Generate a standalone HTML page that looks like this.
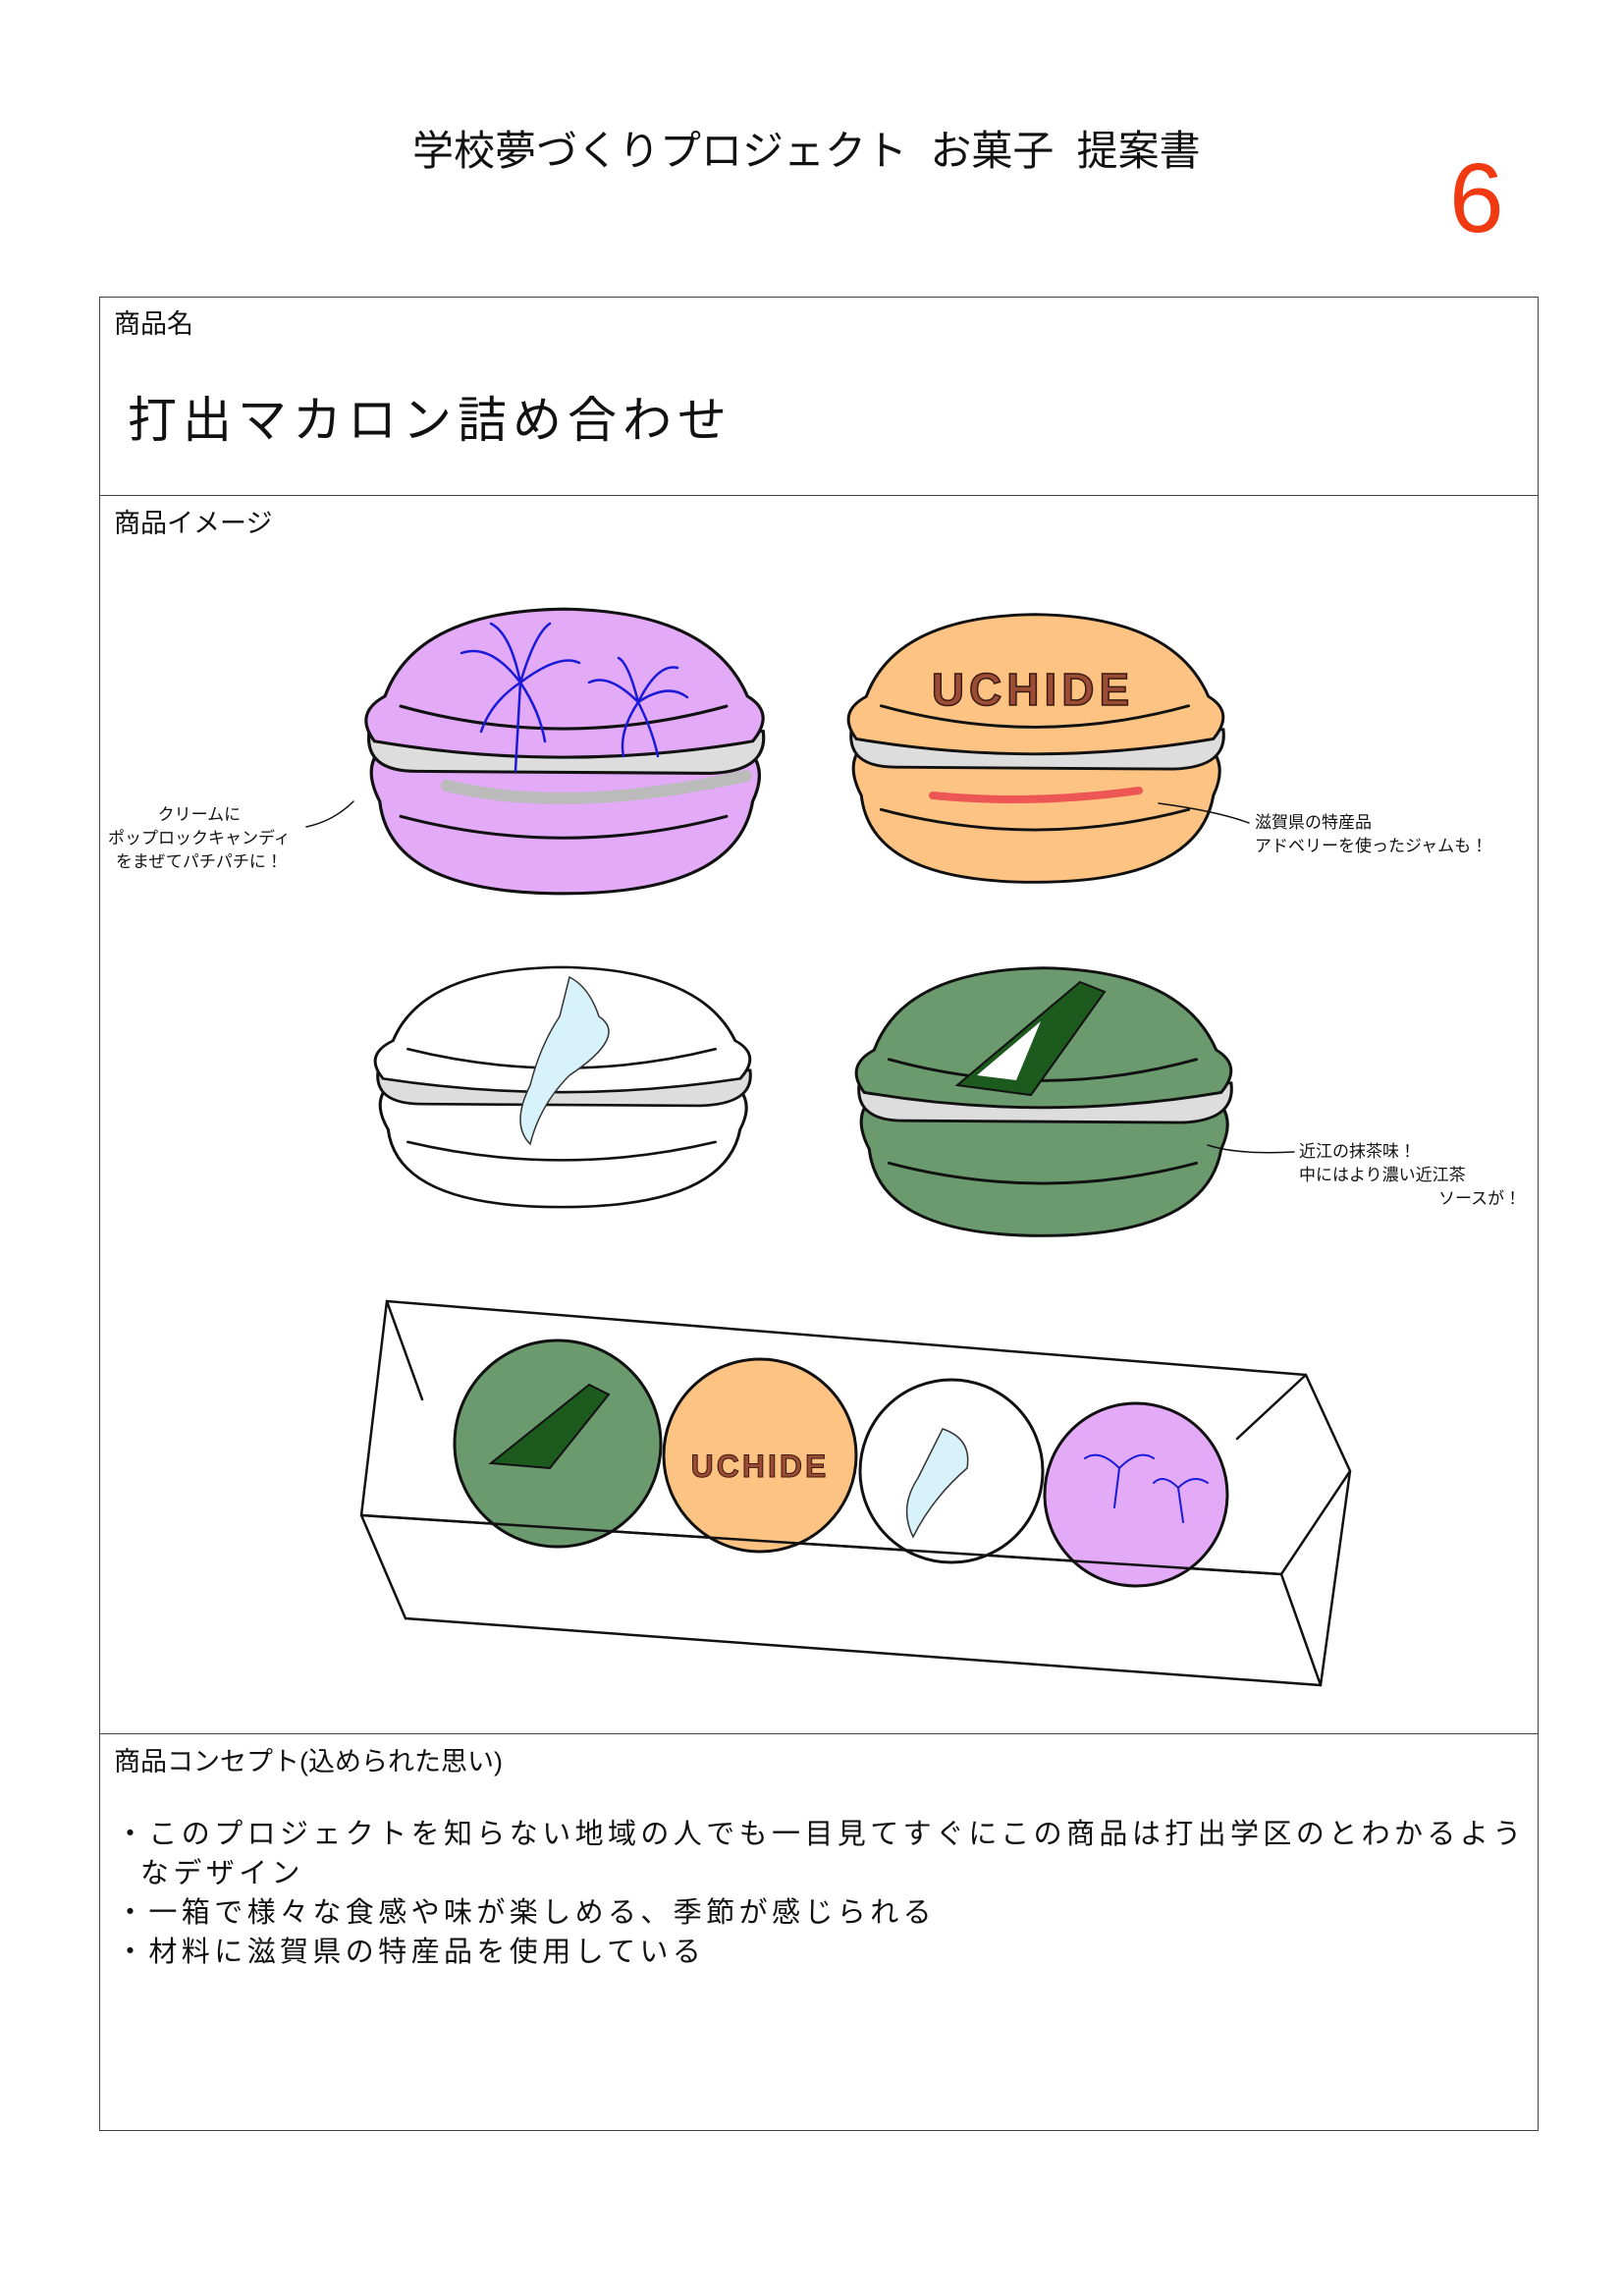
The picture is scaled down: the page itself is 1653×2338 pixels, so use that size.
<!DOCTYPE html>
<html><head><meta charset="utf-8"><style>
body{margin:0;background:#fff;}
.pg{position:relative;width:1653px;height:2338px;font-family:"Liberation Sans","Noto Sans CJK JP",sans-serif;color:#111;}
.t{position:absolute;white-space:nowrap;}
</style></head><body><div class="pg">
<div class="t" style="left:420px;top:120px;font-size:42px;">学校夢づくりプロジェクト&nbsp;&nbsp;お菓子&nbsp;&nbsp;提案書</div>
<div class="t" style="left:1476px;top:145px;font-size:100px;color:#f03a12;">6</div>
<div style="position:absolute;left:101px;top:302px;width:1464px;height:1866px;border:1.5px solid #444;"></div>
<div style="position:absolute;left:101px;top:504px;width:1466px;border-top:1.5px solid #444;"></div>
<div style="position:absolute;left:101px;top:1765px;width:1466px;border-top:1.5px solid #444;"></div>
<div class="t" style="left:116px;top:308px;font-size:27px;">商品名</div>
<div class="t" style="left:130px;top:388px;font-size:50px;letter-spacing:6px;">打出マカロン詰め合わせ</div>
<div class="t" style="left:116px;top:511px;font-size:27px;">商品イメージ</div>
<div class="t" style="left:116px;top:1772px;font-size:27px;">商品コンセプト(込められた思い)</div>
<div class="t" style="left:118px;top:1848px;font-size:29px;letter-spacing:4.4px;line-height:40px;">・このプロジェクトを知らない地域の人でも一目見てすぐにこの商品は打出学区のとわかるよう<br>&nbsp;&nbsp;なデザイン<br>・一箱で様々な食感や味が楽しめる、季節が感じられる<br>・材料に滋賀県の特産品を使用している</div>
<div class="t" style="left:110px;top:818px;font-size:17px;line-height:24px;text-align:center;">クリームに<br>ポップロックキャンディ<br>をまぜてパチパチに！</div>
<div class="t" style="left:1278px;top:826px;font-size:17px;line-height:24px;">滋賀県の特産品<br>アドベリーを使ったジャムも！</div>
<div class="t" style="left:1323px;top:1161px;font-size:17px;line-height:24px;">近江の抹茶味！<br>中にはより濃い近江茶<br><span style="padding-left:142px">ソースが！</span></div>
<svg width="1653" height="2338" style="position:absolute;left:0;top:0" fill="none" stroke="#111" stroke-width="3" stroke-linecap="round">
<defs>
<g id="mac">
<path d="M25,200 Q5,160 35,140 L365,140 Q398,160 380,200 Q365,292 200,292 Q35,292 25,200 Z"/>
<path d="M15,130 Q10,170 60,170 L340,172 Q395,170 390,130 Z" fill="#ddd" stroke="#111"/>
<path d="M20,140 Q0,112 30,95 Q60,10 200,8 Q340,10 375,95 Q402,112 380,140 Q200,172 20,140 Z"/>
<path d="M45,105 Q200,150 355,105" />
<path d="M45,215 Q200,258 355,215" />
</g>
</defs>
<g transform="translate(360,612) scale(1.07,1.02)" fill="#e2aaf7"><use href="#mac"/></g>
<g transform="translate(852,618) scale(1.01,0.96)" fill="#fcc383"><use href="#mac"/></g>
<g transform="translate(370,978) scale(1.01,0.86)" fill="#fff"><use href="#mac"/></g>
<g transform="translate(860,978) scale(1.01,0.96)" fill="#6a9a6e"><use href="#mac"/></g>
<path d="M455,800 Q580,830 760,790" stroke="#bbb" stroke-width="12"/>
<path d="M950,810 Q1050,820 1160,805" stroke="#e55" stroke-width="8"/>
<g stroke="#1a1ad8" stroke-width="2.5">
<path d="M530,695 Q500,655 470,665 M530,695 Q520,645 500,635 M530,695 Q545,645 560,635 M530,695 Q570,665 590,675 M530,695 Q500,715 490,745 M530,695 Q550,725 555,755 M530,695 L525,785"/>
<path d="M650,715 Q620,685 600,695 M650,715 Q640,675 630,670 M650,715 Q670,675 690,680 M650,715 Q680,695 700,710 M650,715 Q630,745 635,770 M650,715 Q665,745 670,770"/>
</g>
<text x="1052" y="718" font-family="Liberation Sans" font-weight="bold" font-size="46" fill="#9a4c35" stroke="#3a1a10" stroke-width="1.5" text-anchor="middle" letter-spacing="5">UCHIDE</text>
<path d="M580,995 Q600,1005 610,1035 Q640,1055 580,1095 Q550,1125 540,1165 Q520,1145 540,1105 Q550,1065 570,1035 Z" fill="#d7f2fb" stroke="#333" stroke-width="1.5"/>
<path d="M1100,1000 L1125,1010 L1050,1115 L975,1105 Z" fill="#1d5a1d" stroke="#111" stroke-width="2"/>
<path d="M1060,1040 L1035,1100 L995,1095 Z" fill="#fff" stroke="none"/>
<path d="M394,1325 L1330,1400 L1375,1498 L1345,1716 L413,1648 L368,1543 Z M368,1543 L1305,1603 L1375,1498 M1305,1603 L1345,1716 M394,1325 L430,1425 M1330,1400 L1260,1465" stroke-width="2.5"/>
<circle cx="568" cy="1470" r="105" fill="#6a9a6e"/>
<circle cx="774" cy="1482" r="98" fill="#fcc383"/>
<circle cx="969" cy="1498" r="93" fill="#fff"/>
<circle cx="1157" cy="1522" r="93" fill="#e2aaf7"/>
<path d="M368,1543 L1305,1603" stroke-width="2.5"/>
<path d="M600,1410 L620,1420 L560,1495 L500,1490 Z" fill="#1d5a1d" stroke="#111" stroke-width="2"/>
<text x="774" y="1504" font-family="Liberation Sans" font-weight="bold" font-size="32" fill="#9a4c35" stroke="#3a1a10" stroke-width="1" text-anchor="middle" letter-spacing="3">UCHIDE</text>
<path d="M960,1455 Q990,1465 985,1495 Q950,1525 930,1565 Q915,1535 935,1505 Z" fill="#d7f2fb" stroke="#333" stroke-width="1.5"/>
<g stroke="#1a1ad8" stroke-width="2"><path d="M1140,1495 Q1120,1475 1105,1485 M1140,1495 Q1160,1475 1175,1485 M1140,1495 L1135,1535 M1200,1515 Q1185,1500 1175,1510 M1200,1515 Q1215,1500 1230,1510 M1200,1515 L1205,1550"/></g>
<path d="M312,842 Q340,836 360,816" stroke-width="1.5"/>
<path d="M1180,818 Q1240,826 1272,838" stroke-width="1.5"/>
<path d="M1230,1166 Q1260,1176 1318,1173" stroke-width="1.5"/>
</svg>
</div></body></html>
